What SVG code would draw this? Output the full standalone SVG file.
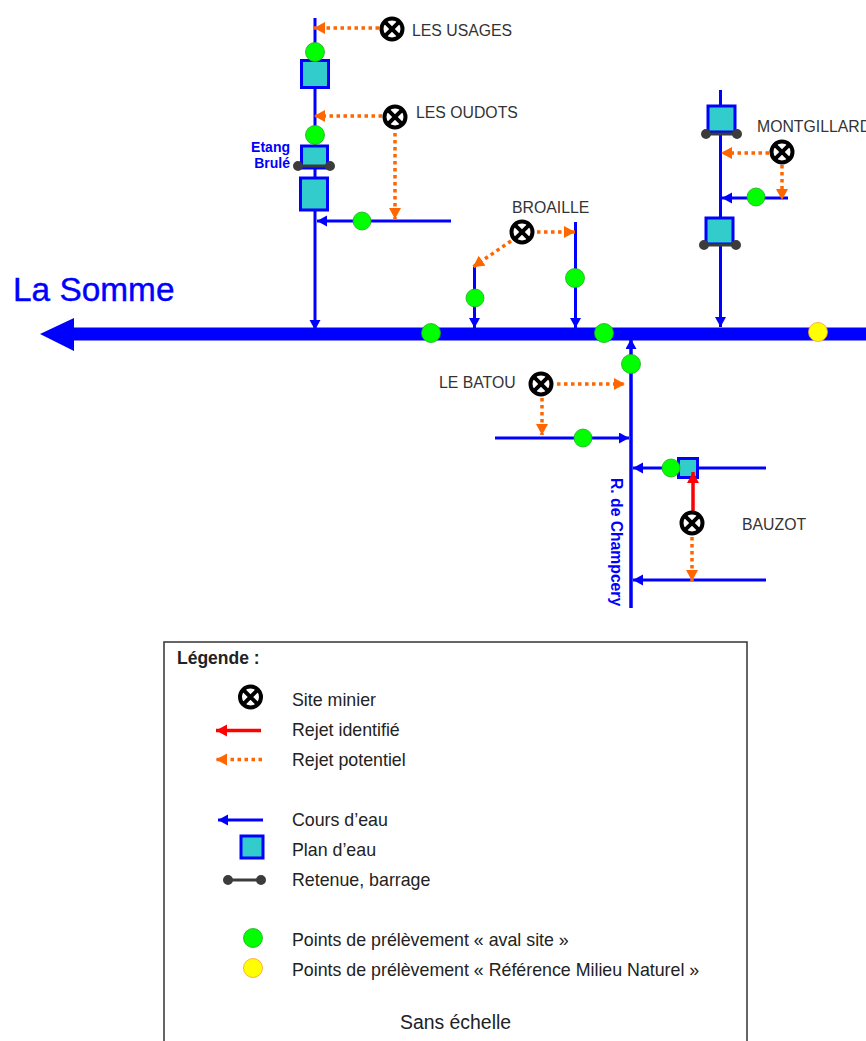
<svg xmlns="http://www.w3.org/2000/svg" width="866" height="1041" viewBox="0 0 866 1041">
<style>
text{font-family:"Liberation Sans",Arial,sans-serif;fill:#222}
.lbl{font-size:15.800px;fill:#333}
.leg{font-size:17.800px;fill:#222}
.blue{fill:#0000ff}
.riv{stroke:#0000ff;fill:none;stroke-width:3}
.pot{stroke:#ff6600;fill:none;stroke-width:3.500;stroke-dasharray:3.500 3.500}
.rej{stroke:#ff0000;fill:none;stroke-width:3.500}
.pond{fill:#33cccc;stroke:#0000ff;stroke-width:3}
.dam{stroke:#3c3c3c;stroke-width:3;fill:#3c3c3c}
.green{fill:#00ff00;stroke:#22aa22;stroke-width:.8}
.yellow{fill:#ffff00;stroke:#ff9933;stroke-width:.8}
.site{fill:#fff;stroke:#000;stroke-width:4}
.cross{stroke:#000;stroke-width:4}
</style>
<defs>
<marker id="ab" markerUnits="userSpaceOnUse" markerWidth="13" markerHeight="13" refX="10" refY="5.500" orient="auto"><path d="M0 0L10 5.500L0 11Z" fill="#0000ff"/></marker>
<marker id="ao" markerUnits="userSpaceOnUse" markerWidth="13" markerHeight="13" refX="11" refY="6" orient="auto"><path d="M0 0L11 6L0 12Z" fill="#ff6600"/></marker>
<marker id="ar" markerUnits="userSpaceOnUse" markerWidth="13" markerHeight="13" refX="11" refY="6" orient="auto"><path d="M0 0L11 6L0 12Z" fill="#ff0000"/></marker>
<g id="s"><circle r="10.500" class="site"/><path class="cross" d="M-7.400-7.400L7.400 7.400M-7.400 7.400L7.400-7.400"/></g>
</defs>

<g id="connectors">
<path d="M866 334H74" stroke="#0000ff" stroke-width="13" fill="none"/>
<path d="M74 318L40 334L74 351Z" fill="#0000ff"/>
<path class="riv" d="M315 18V330" marker-end="url(#ab)"/>
<path class="riv" d="M451 221H317" marker-end="url(#ab)"/>
<path class="riv" d="M474.500 267V328" marker-end="url(#ab)"/>
<path class="riv" d="M575.500 222V328" stroke-width="2.500" marker-end="url(#ab)"/>
<path class="riv" d="M720.500 90V327" marker-end="url(#ab)"/>
<path class="riv" d="M788 198H722" marker-end="url(#ab)"/>
<path d="M631 608V339" stroke="#0000ff" stroke-width="3.500" fill="none" marker-end="url(#ab)"/>
<path class="riv" d="M495 438H629" marker-end="url(#ab)"/>
<path class="riv" d="M766 468H633" marker-end="url(#ab)"/>
<path class="riv" d="M766 580H633" marker-end="url(#ab)"/>
<path class="pot" d="M379 28H314" marker-end="url(#ao)"/>
<path class="pot" d="M382 116H314" marker-end="url(#ao)"/>
<path class="pot" d="M395 133V219" marker-end="url(#ao)"/>
<path class="pot" d="M511 241L473 267" marker-end="url(#ao)"/>
<path class="pot" d="M537 232H575" marker-end="url(#ao)"/>
<path class="pot" d="M769 153H721" marker-end="url(#ao)"/>
<path class="pot" d="M782 165V200" marker-end="url(#ao)"/>
<path class="pot" d="M557 384H625" marker-end="url(#ao)"/>
<path class="pot" d="M542 398V435" marker-end="url(#ao)"/>
<path class="pot" d="M692 537V581" marker-end="url(#ao)"/>
</g>

<g id="etangs">
<rect class="pond" x="301.500" y="60.500" width="27" height="27"/>
<rect class="pond" x="301.500" y="146" width="26" height="22"/>
<rect class="pond" x="300.500" y="178" width="27" height="32"/>
<rect class="pond" x="708" y="106" width="27" height="26"/>
<rect class="pond" x="706" y="218" width="27" height="26"/>
<rect class="pond" x="678.500" y="458.500" width="19" height="19"/>
</g>
<g id="rejet-identifie"><path class="rej" d="M693 512V472" marker-end="url(#ar)"/></g>
<g id="barrages">
<path class="dam" d="M298 166H330"/><circle class="dam" cx="298" cy="166" r="3.500"/><circle class="dam" cx="330" cy="166" r="3.500"/>
<path class="dam" d="M706 134H737"/><circle class="dam" cx="706" cy="134" r="3.500"/><circle class="dam" cx="737" cy="134" r="3.500"/>
<path class="dam" d="M704 245H736"/><circle class="dam" cx="704" cy="245" r="3.500"/><circle class="dam" cx="736" cy="245" r="3.500"/>
</g>
<g id="prelevements">
<circle class="green" cx="315" cy="52" r="9.500"/>
<circle class="green" cx="315" cy="135" r="9.500"/>
<circle class="green" cx="362" cy="221" r="9"/>
<circle class="green" cx="475" cy="298" r="9"/>
<circle class="green" cx="575" cy="278" r="9.500"/>
<circle class="green" cx="431" cy="333" r="9.500"/>
<circle class="green" cx="604" cy="333" r="9.500"/>
<circle class="green" cx="756" cy="197" r="9"/>
<circle class="green" cx="631" cy="364" r="9.500"/>
<circle class="green" cx="583" cy="438" r="9"/>
<circle class="green" cx="671" cy="468" r="9"/>
<circle class="yellow" cx="818" cy="332" r="9.500"/>
</g>

<g id="site-usages"><use href="#s" x="392" y="29"/><text class="lbl" x="412" y="36">LES USAGES</text></g>
<g id="site-oudots"><use href="#s" x="395" y="117"/><text class="lbl" x="416" y="118">LES OUDOTS</text></g>
<g id="site-broaille"><use href="#s" x="522" y="232"/><text class="lbl" x="512" y="213">BROAILLE</text></g>
<g id="site-montgillard"><use href="#s" x="782" y="152"/><text class="lbl" x="757" y="132">MONTGILLARD</text></g>
<g id="site-batou"><use href="#s" x="541" y="384"/><text class="lbl" x="439" y="388">LE BATOU</text></g>
<g id="site-bauzot"><use href="#s" x="692" y="523"/><text class="lbl" x="742" y="530">BAUZOT</text></g>

<g id="labels">
<text class="blue" x="13" y="301" style="font-size:33.400px;stroke:#0000ff;stroke-width:.4">La Somme</text>
<text class="blue" x="290" y="152" text-anchor="end" font-weight="bold" font-size="14">Etang</text>
<text class="blue" x="290" y="168" text-anchor="end" font-weight="bold" font-size="14">Brulé</text>
<text class="blue" transform="translate(611 478) rotate(90)" font-weight="bold" font-size="15.700">R. de Champcery</text>
</g>

<g id="legende">
<rect x="164" y="642" width="583" height="410" fill="none" stroke="#333" stroke-width="1.500"/>
<text x="177" y="664" font-weight="bold" font-size="17.500">Légende :</text>
<use href="#s" x="250.500" y="697"/>
<path class="rej" d="M261 730.500H216" marker-end="url(#ar)"/>
<path class="pot" d="M262 759.500H216" marker-end="url(#ao)"/>
<path class="riv" d="M263 820H218" marker-end="url(#ab)"/>
<rect class="pond" x="241" y="836" width="22" height="22"/>
<path class="dam" d="M228 880H261"/><circle class="dam" cx="228" cy="880" r="3.500"/><circle class="dam" cx="261" cy="880" r="3.500"/>
<circle class="green" cx="253" cy="938" r="9.500"/>
<circle class="yellow" cx="253" cy="968" r="9.500"/>
<text class="leg" x="292" y="705.700">Site minier</text>
<text class="leg" x="292" y="735.700">Rejet identifié</text>
<text class="leg" x="292" y="765.700">Rejet potentiel</text>
<text class="leg" x="292" y="825.700">Cours d’eau</text>
<text class="leg" x="292" y="855.700">Plan d’eau</text>
<text class="leg" x="292" y="885.700">Retenue, barrage</text>
<text class="leg" x="292" y="945.700">Points de prélèvement « aval site »</text>
<text class="leg" x="292" y="975.700">Points de prélèvement « Référence Milieu Naturel »</text>
<text x="400" y="1028.500" font-size="19.400">Sans échelle</text>
</g>
</svg>
